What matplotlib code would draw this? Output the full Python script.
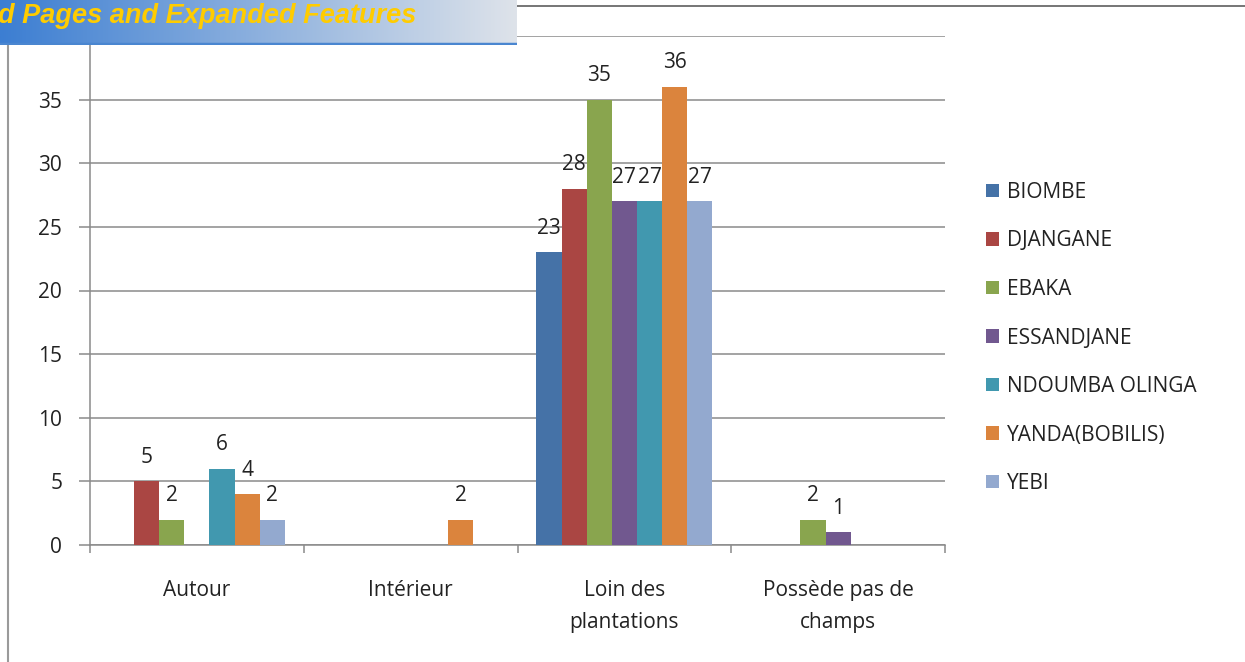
import numpy as np
import matplotlib
matplotlib.use("Agg")
import matplotlib.pyplot as plt
from matplotlib.lines import Line2D

categories = ["Autour", "Intérieur", "Loin des\nplantations", "Possède pas de\nchamps"]
series_names = ["BIOMBE", "DJANGANE", "EBAKA", "ESSANDJANE",
                "NDOUMBA OLINGA", "YANDA(BOBILIS)", "YEBI"]
biombe = [0, 0, 23, 0]
djangane = [5, 0, 28, 0]
ebaka = [2, 0, 35, 2]
essandjane = [0, 0, 27, 1]
ndoumba = [6, 0, 27, 0]
yanda = [4, 2, 36, 0]
yebi = [2, 0, 27, 0]
series_values = [biombe, djangane, ebaka, essandjane, ndoumba, yanda, yebi]
colors = ["#4572A7", "#AA4643", "#89A54E", "#71588F", "#4198AF", "#DB843D", "#93A9CF"]
y_ticks = [0, 5, 10, 15, 20, 25, 30, 35, 40]
banner_text = "d Pages and Expanded Features"

FONT = "Open Sans"
FS = 15

W, H = 1245, 662
fig = plt.figure(figsize=(W / 100, H / 100), dpi=100)
fig.patch.set_facecolor("white")

def fx(px):
    return px / W

def fy(py):
    return 1 - py / H

ax = fig.add_axes([fx(90), fy(545), fx(945) - fx(90), fy(36) - fy(545)])
n = len(series_names)
bw = 1 / 8.5
x = np.arange(len(categories))
for i, (name, vals, c) in enumerate(zip(series_names, series_values, colors)):
    pos = x + (i - (n - 1) / 2) * bw
    ax.bar(pos, vals, width=bw, color=c, label=name, zorder=3, linewidth=0)
    for p, v in zip(pos, vals):
        if v:
            ax.annotate(str(v), (p, v), xytext=(0, 24), textcoords="offset pixels",
                        ha="center", va="center", fontsize=FS, family=FONT,
                        color="#222222", zorder=4)

ax.set_xlim(-0.5, len(categories) - 0.5)
ax.set_ylim(0, 40)
ax.set_yticks(y_ticks)
ax.set_yticklabels([str(t) for t in y_ticks], fontsize=FS, family=FONT, color="#222222")
ax.yaxis.grid(True, color="#8a8a8a", linewidth=1.1, zorder=0)
ax.set_axisbelow(True)
ax.set_xticks(np.arange(len(categories) + 1) - 0.5)
ax.set_xticklabels([])
ax.set_xticks(x, minor=True)
ax.set_xticklabels(categories, minor=True, fontsize=FS, family=FONT, color="#222222",
                   linespacing=1.68)
ax.tick_params(axis="x", which="minor", length=0, pad=25)
ax.tick_params(axis="x", which="major", length=6, color="#8a8a8a", width=1.1)
ax.tick_params(axis="y", length=8, color="#8a8a8a", width=1.1, pad=12)
for s in ["top", "right"]:
    ax.spines[s].set_visible(False)
for s in ["left", "bottom"]:
    ax.spines[s].set_color("#8a8a8a")
    ax.spines[s].set_linewidth(1.1)

leg = ax.legend(loc="upper left", bbox_to_anchor=(fx(986), fy(182)),
                bbox_transform=fig.transFigure, frameon=False,
                prop={"family": FONT, "size": FS}, handlelength=0.62,
                handleheight=0.62, handletextpad=0.4, labelspacing=1.32,
                borderaxespad=0, borderpad=0)
for t in leg.get_texts():
    t.set_color("#222222")

# slide decorations
fig.add_artist(Line2D([fx(517), fx(1245)], [fy(6), fy(6)], color="#6a6a6a", lw=1.3))
fig.add_artist(Line2D([fx(8), fx(8)], [fy(45), fy(662)], color="#9a9a9a", lw=1.5))

bax = fig.add_axes([0, fy(45), fx(517), fy(0) - fy(45)], zorder=10)
grad = np.linspace(0, 1, 256)
c0 = np.array([0x3C, 0x7E, 0xD2]) / 255
c1 = np.array([0xDE, 0xE3, 0xEA]) / 255
img = (c0[None, :] * (1 - grad[:, None]) + c1[None, :] * grad[:, None])[None, :, :]
bax.imshow(img, aspect="auto", extent=[0, 1, 0, 1])
bax.axhline(0.02, color="#4a86d0", lw=2.5)
bax.set_xlim(0, 1)
bax.set_ylim(0, 1)
bax.axis("off")
bax.text(-0.003, 0.64, banner_text, fontsize=19.5, fontweight="bold", fontstyle="italic",
         family="Liberation Sans", color="#FFCC00", va="center", ha="left")

fig.savefig("out.png", dpi=100)
